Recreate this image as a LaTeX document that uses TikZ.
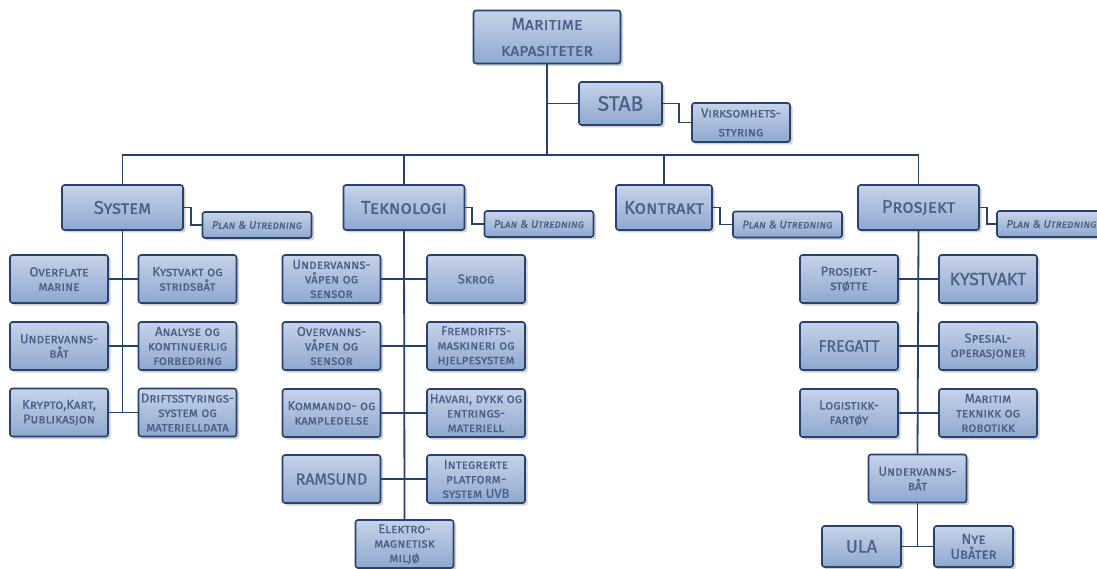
\documentclass[tikz,border=0pt]{standalone}
\usepackage{fontspec}
\setmainfont{Fira Sans}[FakeBold=0.6]
\usetikzlibrary{shadows}

\definecolor{boxline}{HTML}{27426F}
\definecolor{boxtop}{HTML}{C6D3EA}
\definecolor{boxbot}{HTML}{8FA7CF}
\definecolor{boxtext}{HTML}{4B5F88}

\tikzset{every picture/.style={line width=1.5pt}}
\tikzset{
  orgbox/.style={draw=boxline, line width=1.6pt, rounded corners=2.5pt,
    top color=boxtop, bottom color=boxbot, text=boxtext, align=center,
    inner sep=1pt, font=\fontsize{13}{14.5}\selectfont\scshape,
    minimum width=98pt, minimum height=48pt,
    drop shadow={shadow xshift=2.5pt, shadow yshift=-2.5pt, fill=black!45, opacity=0.4}},
  headbox/.style={orgbox, minimum width=121pt, minimum height=45pt,
    font=\fontsize{18.5}{20}\selectfont\scshape},
  planbox/.style={orgbox, minimum width=109pt, minimum height=26pt,
    font=\fontsize{11}{12}\selectfont\itshape\scshape},
  capsbox/.style={orgbox, font=\fontsize{16}{18}\selectfont},
  link/.style={draw=boxline, line width=1.8pt}
}

\begin{document}
\begin{tikzpicture}[x=1pt,y=1pt,yscale=-1,xscale=1]
\useasboundingbox (0,0) rectangle (1097,569);
\clip (0,0) rectangle (1097,569);

% top
\node[orgbox, minimum width=147pt, minimum height=53pt, font=\fontsize{17.5}{26}\selectfont\scshape] (mk) at (547,37) {Maritime\\kapasiteter};
\node[orgbox, minimum width=83pt, minimum height=43pt, font=\fontsize{21}{22}\selectfont] (stab) at (620.5,103.5) {STAB};
\node[orgbox, minimum height=39pt, font=\fontsize{13}{19}\selectfont\scshape] (virk) at (741,122.5) {Virksomhets-\\styring};
\coordinate (bus) at (547,155);

% second level
\node[headbox] (sys) at (122.5,207.5) {System};
\node[headbox] (tek) at (404,207.5) {Teknologi};
\node[headbox, minimum width=96pt] (kon) at (664,207.5) {Kontrakt};
\node[headbox] (pro) at (918.5,207.5) {Prosjekt};
\node[planbox] (sysplan) at (257,225) {Plan \& Utredning};
\node[planbox] (tekplan) at (539,224) {Plan \& Utredning};
\node[planbox] (konplan) at (787.5,224.5) {Plan \& Utredning};
\node[planbox] (proplan) at (1051.5,224) {Plan \& Utredning};

% System
\node[orgbox] (ovm) at (59,279) {Overflate\\marine};
\node[orgbox] (ksb) at (187.5,279) {Kystvakt og\\stridsbåt};
\node[orgbox] (ubs) at (59,346) {Undervanns-\\båt};
\node[orgbox] (ana) at (187.5,346) {Analyse og\\kontinuerlig\\forbedring};
\node[orgbox] (krp) at (59,412.5) {Krypto,Kart,\\Publikasjon};
\node[orgbox] (drs) at (187.5,412.5) {Driftsstyrings-\\system og\\materielldata};

% Teknologi
\node[orgbox] (uvs) at (331.5,279) {Undervanns-\\våpen og\\sensor};
\node[orgbox] (skr) at (476,279) {Skrog};
\node[orgbox] (ovs) at (331.5,346) {Overvanns-\\våpen og\\sensor};
\node[orgbox] (frm) at (476,346) {Fremdrifts-\\maskineri og\\hjelpesystem};
\node[orgbox] (kom) at (331.5,413) {Kommando- og\\kampledelse};
\node[orgbox] (hav) at (476,413) {Havari, dykk og\\entrings-\\materiell};
\node[capsbox] (ram) at (331.5,479) {RAMSUND};
\node[orgbox] (ipl) at (476,479) {Integrerte\\platform-\\system \textsc{UVB}};
\node[orgbox] (elm) at (404.5,544) {Elektro-\\magnetisk\\miljø};

% Prosjekt
\node[orgbox] (pst) at (849,279) {Prosjekt-\\støtte};
\node[capsbox, font=\fontsize{17.5}{18}\selectfont] (kyv) at (988,279) {KYSTVAKT};
\node[capsbox] (frg) at (849,346) {FREGATT};
\node[orgbox] (spo) at (988,346) {Spesial-\\operasjoner};
\node[orgbox] (lgf) at (849,413) {Logistikk-\\fartøy};
\node[orgbox] (mtr) at (988,413) {Maritim\\teknikk og\\robotikk};
\node[orgbox] (pub) at (917.5,478.5) {Undervanns-\\båt};
\node[capsbox, minimum width=79pt, minimum height=41pt, font=\fontsize{18}{18}\selectfont] (ula) at (861.5,546.5) {ULA};
\node[orgbox, minimum width=79pt, minimum height=41pt, font=\fontsize{14.5}{15}\selectfont\scshape] (nye) at (973.5,546.5) {Nye\\Ubåter};

% connectors
\draw[link] (mk.south) -- (mk.south |- bus);
\draw[link] (stab.west) -- (mk.south |- stab.west);
\draw[link] (stab.east) -- ++(16,0) |- (virk.west);
\draw[link] (sys.north) -- (sys.north |- bus) -- (pro.north |- bus) -- (pro.north);
\draw[link] (tek.north) -- (tek.north |- bus);
\draw[link] (kon.north) -- (kon.north |- bus);
\draw[link] (sys.east) -- ++(7,0) |- (sysplan.west);
\draw[link] (tek.east) -- ++(7,0) |- (tekplan.west);
\draw[link] (kon.east) -- ++(7,0) |- (konplan.west);
\draw[link] (pro.east) -- ++(7,0) |- (proplan.west);

\draw[link] (sys.south) -- (sys.south |- krp.east);
\draw[link] (ovm.east) -- (ksb.west);
\draw[link] (ubs.east) -- (ana.west);
\draw[link] (krp.east) -- (drs.west);

\draw[link] (tek.south) -- (elm.north);
\draw[link] (uvs.east) -- (skr.west);
\draw[link] (ovs.east) -- (frm.west);
\draw[link] (kom.east) -- (hav.west);
\draw[link] (ram.east) -- (ipl.west);

\draw[link] (pro.south) -- (pub.north);
\draw[link] (pst.east) -- (kyv.west);
\draw[link] (frg.east) -- (spo.west);
\draw[link] (lgf.east) -- (mtr.west);
\draw[link] (pub.south) -- (pub.south |- ula.east);
\draw[link] (ula.east) -- (nye.west);

\end{tikzpicture}
\end{document}
